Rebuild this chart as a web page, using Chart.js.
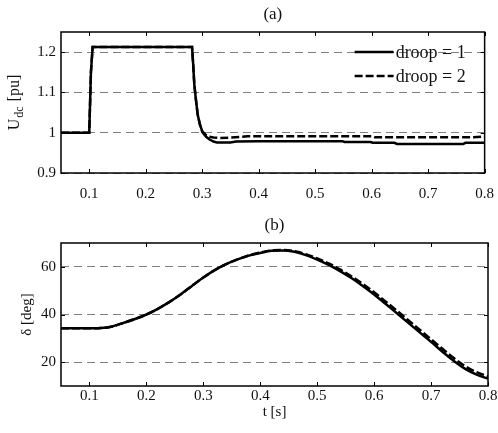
<!DOCTYPE html>
<html>
<head>
<meta charset="utf-8">
<script src="https://cdn.jsdelivr.net/npm/chart.js@4.4.1/dist/chart.umd.min.js"></script>
<style>
  body { margin: 0; background: #fff; }
  #wrap { position: relative; width: 498px; height: 433px; }
  canvas { position: absolute; left: 0; }
</style>
</head>
<body>
<div id="wrap">
  <canvas id="udc" width="498" height="205" style="top:0"></canvas>
  <canvas id="delta" width="498" height="228" style="top:205px"></canvas>
</div>
<script>
// time ticks shared by both panels
const tTicks = [0.1, 0.2, 0.3, 0.4, 0.5, 0.6, 0.7, 0.8];

// (a) DC voltage, droop = 1
const tU1 = [0.05, 0.1, 0.103, 0.106, 0.282, 0.284, 0.286, 0.289, 0.292, 0.296, 0.301, 0.307, 0.313, 0.320, 0.326, 0.35, 0.36, 0.40, 0.548, 0.552, 0.598, 0.602, 0.64, 0.645, 0.762, 0.766, 0.8];
const uDc1 = [1.0, 1.0, 1.15, 1.213, 1.213, 1.17, 1.12, 1.08, 1.045, 1.02, 1.0, 0.99, 0.983, 0.978, 0.976, 0.976, 0.978, 0.979, 0.979, 0.977, 0.977, 0.975, 0.975, 0.972, 0.972, 0.975, 0.975];
// (a) DC voltage, droop = 2
const tU2 = [0.05, 0.1, 0.103, 0.106, 0.282, 0.284, 0.286, 0.289, 0.292, 0.296, 0.300, 0.306, 0.312, 0.320, 0.33, 0.35, 0.38, 0.55, 0.60, 0.605, 0.78, 0.8];
const uDc2 = [1.0, 1.0, 1.15, 1.213, 1.213, 1.17, 1.12, 1.08, 1.045, 1.02, 1.003, 0.995, 0.99, 0.988, 0.987, 0.988, 0.991, 0.991, 0.991, 0.989, 0.989, 0.99];
const uTicks = [0.9, 1, 1.1, 1.2];

// (b) angle
const tD = [0.05, 0.1, 0.11, 0.12, 0.14, 0.16, 0.18, 0.2, 0.22, 0.24, 0.26, 0.28, 0.30, 0.32, 0.34, 0.36, 0.38, 0.40, 0.42, 0.44,
            0.46, 0.48, 0.50, 0.52, 0.54, 0.56, 0.58, 0.60, 0.62, 0.64, 0.66, 0.68, 0.70, 0.72, 0.74, 0.76, 0.78, 0.80];
const delta1 = [34.2, 34.2, 34.2, 34.3, 35.0, 36.5, 38.1, 40.0, 42.4, 45.2, 48.4, 52.0, 55.5, 58.6, 61.1, 63.1, 64.7, 65.8, 66.7, 66.9,
                66.3, 64.9, 63.0, 60.8, 58.2, 55.3, 52.0, 48.4, 44.5, 40.5, 36.5, 32.5, 28.5, 24.4, 20.5, 17.2, 14.8, 13.1];
const delta2 = [34.2, 34.2, 34.2, 34.3, 35.0, 36.5, 38.1, 40.0, 42.4, 45.2, 48.4, 52.0, 55.5, 58.6, 61.1, 63.1, 64.8, 66.0, 66.9, 67.1,
                66.6, 65.3, 63.5, 61.4, 58.9, 56.0, 52.8, 49.3, 45.5, 41.6, 37.6, 33.6, 29.6, 25.6, 21.7, 18.3, 15.8, 14.0];
const dTicks = [20, 40, 60];

const labels = ['droop = 1', 'droop = 2'];

Chart.defaults.font.family = '"Liberation Serif", "Times New Roman", serif';
Chart.defaults.font.size = 15;
Chart.defaults.color = '#111';

function pts(ts, vs) {
  return ts.map((t, i) => ({ x: t, y: vs[i] }));
}

// frame, inward ticks, panel title, legend and y label
const framePlugin = {
  id: 'frame',
  afterDraw(chart, args, opts) {
    const { ctx, chartArea: a, scales } = chart;
    ctx.save();
    ctx.strokeStyle = '#000';
    ctx.lineWidth = 1;
    ctx.beginPath();
    scales.x.ticks.forEach(t => {
      const px = Math.round(scales.x.getPixelForValue(t.value)) + 0.5;
      ctx.moveTo(px, a.bottom); ctx.lineTo(px, a.bottom - 4);
      ctx.moveTo(px, a.top); ctx.lineTo(px, a.top + 4);
    });
    scales.y.ticks.forEach(t => {
      const py = Math.round(scales.y.getPixelForValue(t.value)) + 0.5;
      ctx.moveTo(a.left, py); ctx.lineTo(a.left + 4, py);
      ctx.moveTo(a.right, py); ctx.lineTo(a.right - 4, py);
    });
    ctx.stroke();
    ctx.lineWidth = 1.5;
    ctx.strokeRect(a.left, a.top, a.right - a.left, a.bottom - a.top);

    ctx.fillStyle = '#111';
    ctx.font = '17px "Liberation Serif"';
    ctx.textAlign = 'center';
    ctx.textBaseline = 'middle';
    ctx.fillText(opts.title, (a.left + a.right) / 2, a.top - 17);

    if (opts.legend) {
      ctx.textAlign = 'left';
      ctx.font = '18px "Liberation Serif"';
      chart.data.datasets.forEach((ds, i) => {
        const y = a.top + 20 + i * 24;
        ctx.beginPath();
        ctx.setLineDash(ds.borderDash || []);
        ctx.lineWidth = 2.5;
        ctx.moveTo(a.right - 130, y); ctx.lineTo(a.right - 91, y);
        ctx.stroke();
        ctx.setLineDash([]);
        ctx.fillText(ds.label, a.right - 89, y + 1);
      });
    }

    if (opts.ylabel) {
      const mid = (a.top + a.bottom) / 2;
      ctx.translate(opts.ylabel.x, mid);
      ctx.rotate(-Math.PI / 2);
      ctx.textAlign = 'left';
      ctx.textBaseline = 'alphabetic';
      const big = '16px "Liberation Serif"', small = '12px "Liberation Serif"';
      ctx.font = big;
      const wMain = ctx.measureText(opts.ylabel.main).width;
      const wTail = ctx.measureText(opts.ylabel.tail).width;
      ctx.font = small;
      const wSub = ctx.measureText(opts.ylabel.sub).width + 2;
      let x0 = -(wMain + wSub + wTail) / 2;
      ctx.font = big;
      ctx.fillText(opts.ylabel.main, x0, 3);
      ctx.font = small;
      ctx.fillText(opts.ylabel.sub, x0 + wMain + 1, 7);
      ctx.font = big;
      ctx.fillText(opts.ylabel.tail, x0 + wMain + wSub, 3);
    }
    ctx.restore();
  }
};

function xScale(padding, height, title) {
  return {
    type: 'linear',
    min: 0.05,
    max: 0.8,
    afterBuildTicks: s => { s.ticks = tTicks.map(v => ({ value: v })); },
    afterFit: s => { s.height = height; },
    grid: { display: false },
    border: { display: false },
    ticks: { padding: padding, maxRotation: 0, callback: v => String(v) },
    title: title
  };
}

function yScale(min, max, tickList) {
  return {
    min: min,
    max: max,
    afterBuildTicks: s => { s.ticks = tickList.map(v => ({ value: v })); },
    afterFit: s => { s.width = 61; },
    grid: { color: '#808080', lineWidth: 1, drawTicks: false },
    border: { display: false, dash: [8, 5] },
    ticks: { padding: 5, callback: v => String(v) }
  };
}

new Chart(document.getElementById('udc'), {
  type: 'line',
  data: {
    datasets: [
      { label: labels[0], data: pts(tU1, uDc1), borderColor: '#000', borderWidth: 2.5, pointRadius: 0, tension: 0 },
      { label: labels[1], data: pts(tU2, uDc2), borderColor: '#000', borderWidth: 2.5, borderDash: [8, 3], pointRadius: 0, tension: 0 }
    ]
  },
  options: {
    responsive: false,
    animation: false,
    layout: { padding: { top: 32, right: 10, left: 0, bottom: 0 } },
    scales: {
      x: xScale(4, 32, { display: false }),
      y: yScale(0.9, 1.25, uTicks)
    },
    plugins: {
      legend: { display: false },
      tooltip: { enabled: false },
      frame: { title: '(a)', legend: true, ylabel: { x: 16, main: 'U', sub: 'dc', tail: ' [pu]' } }
    }
  },
  plugins: [framePlugin]
});

new Chart(document.getElementById('delta'), {
  type: 'line',
  data: {
    datasets: [
      { label: labels[0], data: pts(tD, delta1), borderColor: '#000', borderWidth: 2.5, pointRadius: 0, cubicInterpolationMode: 'monotone' },
      { label: labels[1], data: pts(tD, delta2), borderColor: '#000', borderWidth: 2.5, borderDash: [8, 3], pointRadius: 0, cubicInterpolationMode: 'monotone' }
    ]
  },
  options: {
    responsive: false,
    animation: false,
    layout: { padding: { top: 38, right: 10, left: 0, bottom: 0 } },
    scales: {
      x: xScale(-7, 47, { display: true, text: 't [s]', font: { size: 15 }, padding: { top: 0, bottom: 12 } }),
      y: Object.assign(yScale(10, 70, dTicks), {
        title: { display: true, text: 'δ [deg]', font: { size: 15 }, padding: { top: 18, bottom: 0 } }
      })
    },
    plugins: {
      legend: { display: false },
      tooltip: { enabled: false },
      frame: { title: '(b)' }
    }
  },
  plugins: [framePlugin]
});
</script>
</body>
</html>
